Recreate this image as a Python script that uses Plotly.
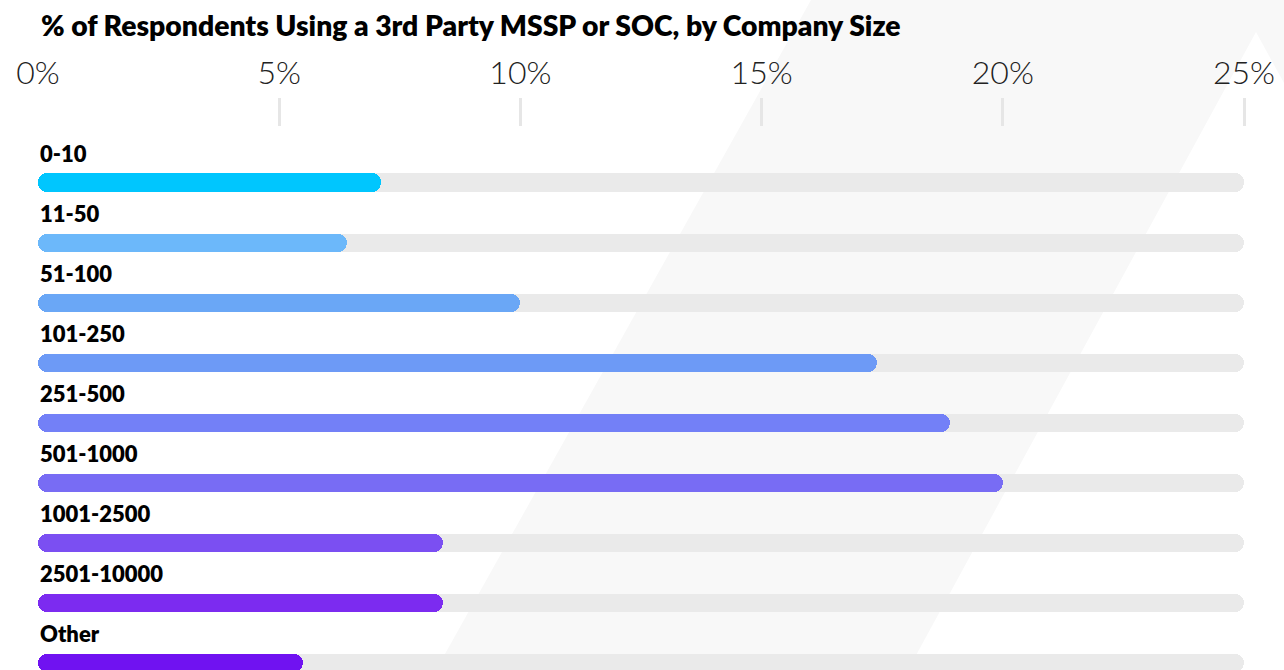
import plotly.graph_objects as go

# ---- data ----
categories = ["0-10", "11-50", "51-100", "101-250", "251-500",
              "501-1000", "1001-2500", "2501-10000", "Other"]
values = [7.1, 6.4, 10.0, 17.4, 18.9, 20.0, 8.4, 8.4, 5.5]
bar_colors = ["#00C6FE", "#6CB8FA", "#6AA7F6", "#6D9AF6", "#7380F7",
              "#786CF4", "#7B4FF2", "#7C2BF0", "#7012F1"]
axis_max = 25
tick_vals = [0, 5, 10, 15, 20, 25]
tick_text = ["0%", "5%", "10%", "15%", "20%", "25%"]
mark_vals = [5, 10, 15, 20, 25]
title_text = "% of Respondents Using a 3rd Party MSSP or SOC, by Company Size"

W, H = 1284, 670
ML, MR, MT, MB = 38, 40, 127, 0
BAR_W = 0.30
RADIUS = 9

fig = go.Figure()


def add_rounded(vals, colors, name, hover):
    fig.add_trace(go.Bar(
        y=categories, x=vals, base=[0] * len(vals), orientation="h",
        marker=dict(color=colors, cornerradius=RADIUS, line=dict(width=0)),
        width=BAR_W, name=name, showlegend=False,
        hoverinfo="x+y" if hover else "skip"))


add_rounded([axis_max] * len(categories), ["#EAEAEA"] * len(categories), "track", False)
add_rounded(values, bar_colors, "value", True)

# overlay axis carrying the tick marks (no mark at 0)
fig.add_trace(go.Scatter(x=[None], y=[None], xaxis="x2", showlegend=False))

pw = W - ML - MR
ph = H - MT - MB

annotations = []
for c in categories:
    annotations.append(dict(
        x=0, y=c, xref="x", yref="y", text=c, showarrow=False,
        xanchor="left", yanchor="middle", xshift=0, yshift=29.5,
        font=dict(family="Lato", size=22, color="#000000", weight=800)))

annotations.append(dict(
    x=(39 - ML) / pw, y=(H - 25 - MB) / ph, xref="paper", yref="paper",
    text=title_text, showarrow=False, xanchor="left", yanchor="middle",
    font=dict(family="Lato", size=28.3, color="#000000", weight=800)))


def px_to_paper(px, py):
    return ((px - ML) / pw, (H - MB - py) / ph)


poly = [(811, 0), (1284, 0), (1284, 83), (1256, 32), (908, 670), (436, 670)]
pts = [px_to_paper(x, y) for x, y in poly]
path = "M " + " L ".join(f"{x:.5f},{y:.5f}" for x, y in pts) + " Z"

top_px = 182.5
pitch = 60.1
y_top = -(top_px - MT) / pitch
y_bot = (H - MB - top_px) / pitch

fig.update_layout(
    width=W, height=H,
    margin=dict(l=ML, r=MR, t=MT, b=MB, pad=0),
    paper_bgcolor="#FFFFFF", plot_bgcolor="rgba(0,0,0,0)",
    barmode="overlay", bargap=0,
    showlegend=False,
    annotations=annotations,
    shapes=[dict(type="path", path=path, xref="paper", yref="paper",
                 fillcolor="#F8F8F8", line=dict(width=0), layer="below")],
    xaxis=dict(range=[0, axis_max], side="top", showgrid=False, zeroline=False,
               showline=False, ticks="", tickvals=tick_vals, ticktext=tick_text,
               ticklabelstandoff=36,
               tickfont=dict(family="Lato", size=32, color="#222222", weight=300),
               fixedrange=True),
    xaxis2=dict(range=[0, axis_max], overlaying="x", side="top", showgrid=False,
                zeroline=False, showline=False, ticks="outside", ticklen=28,
                tickwidth=3, tickcolor="#E6E6E6", tickvals=mark_vals,
                showticklabels=False, fixedrange=True),
    yaxis=dict(range=[y_bot, y_top], type="category", categoryorder="array",
               categoryarray=categories, showgrid=False, zeroline=False,
               showline=False, showticklabels=False, ticks="", fixedrange=True),
)

fig.write_html("out.html")
